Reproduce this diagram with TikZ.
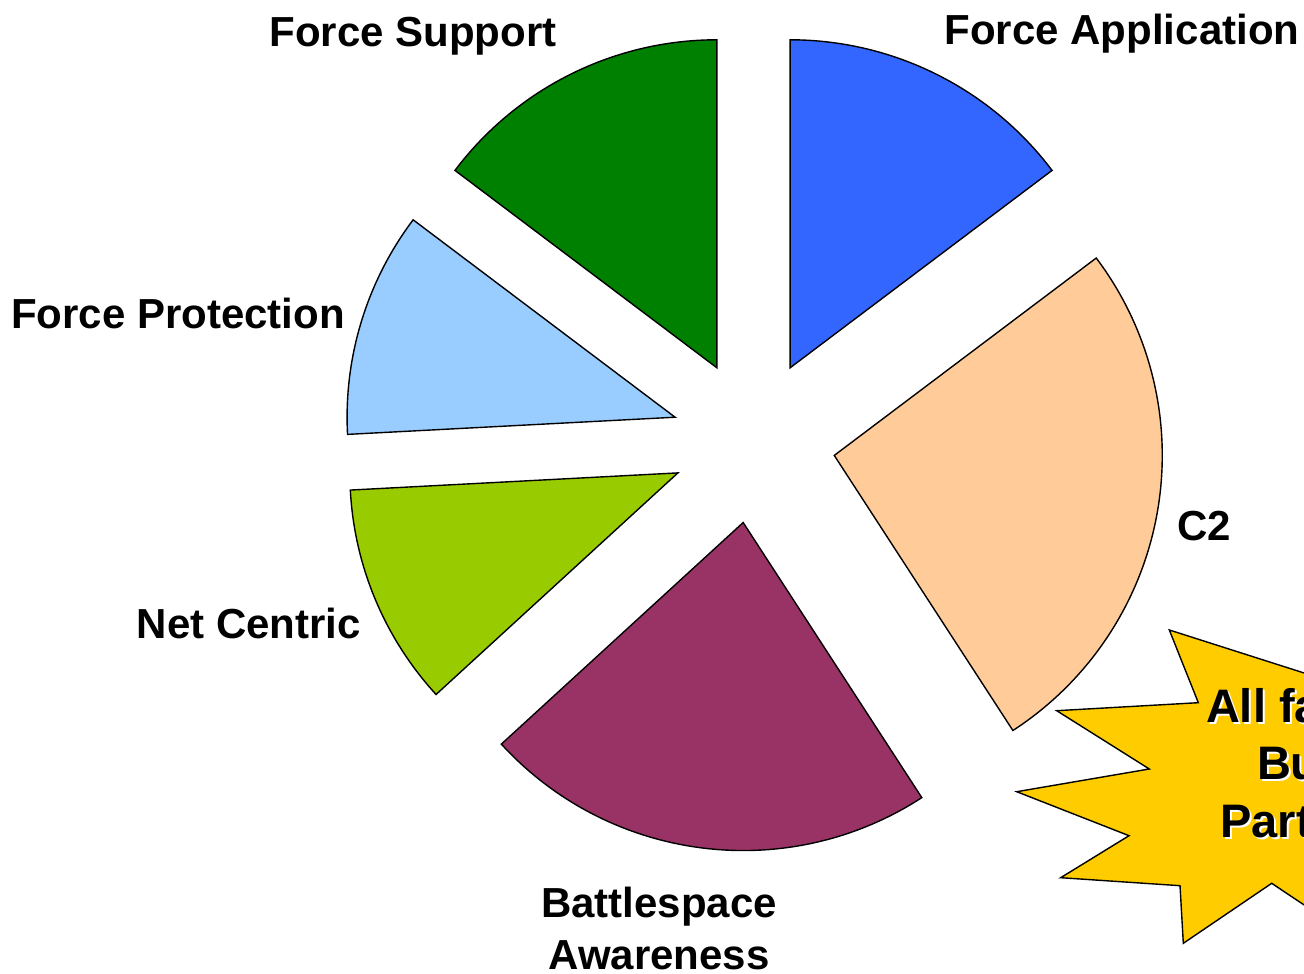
\documentclass[tikz,border=0pt]{standalone}
\usepackage{fontspec}
\setmainfont{Liberation Sans}
\usepackage{xcolor}
\usetikzlibrary{calc}

\definecolor{faBlue}{HTML}{3366FF}
\definecolor{fsGreen}{HTML}{008000}
\definecolor{fpBlue}{HTML}{99CCFF}
\definecolor{ncGreen}{HTML}{99CC00}
\definecolor{baRed}{HTML}{993366}
\definecolor{ctwoPeach}{HTML}{FFCC99}
\definecolor{starGold}{HTML}{FFCC00}

\tikzset{
  slice/.style={draw=black, line width=0.7pt, line join=miter},
  piename/.style={inner sep=0pt, align=center,
    font=\fontsize{21}{26}\selectfont\bfseries},
  startext/.style={inner sep=0pt, align=center,
    font=\fontsize{23.5}{28.75}\selectfont\bfseries}
}

% start angle, end angle, colour
\newcommand{\PieSlice}[3]{%
  \draw[slice, fill=#3] ($(O)+({(#1+#2)/2}:82)$) -- ++(#1:328)
    arc[start angle=#1, end angle=#2, radius=328] -- cycle;}

\begin{document}
\begin{tikzpicture}[x=0.5pt, y=0.5pt]
    \useasboundingbox (0,0) rectangle (1304,973);
    \clip (0,0) rectangle (1304,973);
    \coordinate (O) at (753.5,531.8);
    % exploded pie
    \PieSlice{37}{90}{faBlue}
    \PieSlice{90}{143}{fsGreen}
    \PieSlice{143}{183}{fpBlue}
    \PieSlice{183}{222.5}{ncGreen}
    \PieSlice{222.5}{303}{baRed}
    \PieSlice{303}{397}{ctwoPeach}
    % slice names
    \node[piename] (fs) at (413,937) {Force Support};
    \node[piename] (fa) at (1122,939) {Force Application};
    \node[piename] (fp) at (178,660) {Force Protection};
    \node[piename] (nc) at (249,350) {Net Centric};
    \node[piename] (c2) at (1204,447) {C2};
    \node[piename] (ba) at (659,45) {Battlespace\\Awareness};
    % burst
    \draw[slice, fill=starGold] (1420,263) -- (1169.3,343) -- (1198.3,270.3)
      -- (1056.7,262.3) -- (1149.3,204) -- (1016.7,181.3) -- (1129,137.3)
      -- (1060.7,95.3) -- (1180,87.3) -- (1183.3,29.7) -- (1271.7,89.7)
      -- (1340,44) -- (1420,30) -- cycle;
    \node[startext, text=white] (bpshadow) at (1353,203.5)
      {All facilitates\\Building\\Partnership};
    \node[startext] (bp) at (1351,205.5) {All facilitates\\Building\\Partnership};
\end{tikzpicture}
\end{document}
